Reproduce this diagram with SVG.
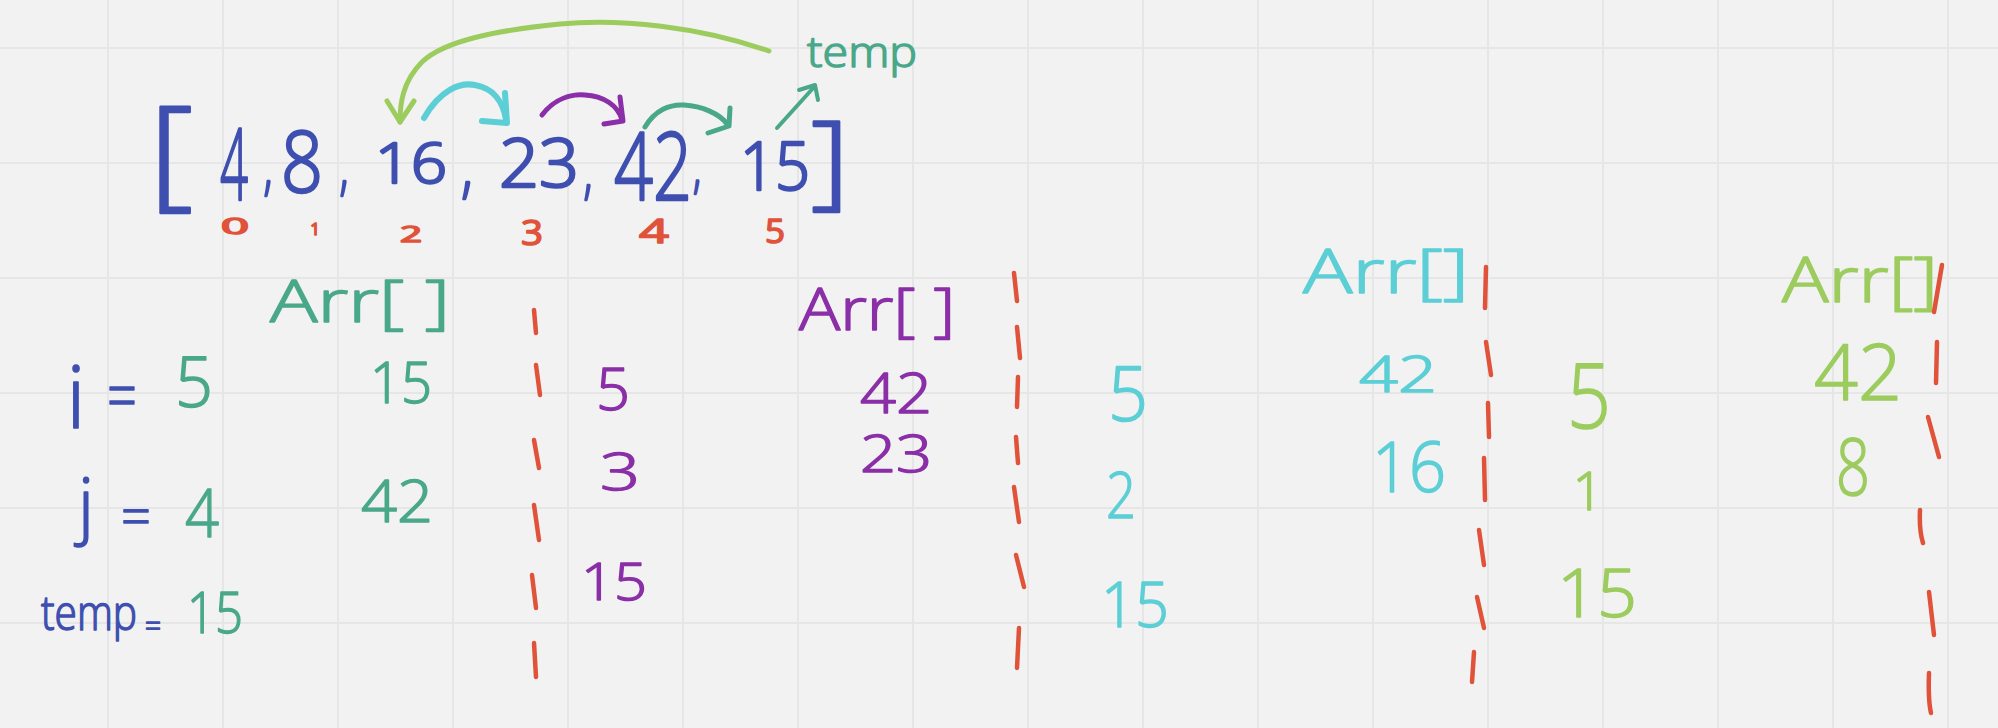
<svg xmlns="http://www.w3.org/2000/svg" width="1998" height="728" viewBox="0 0 1998 728">
<style>
text{font-family:"Open Sans","Liberation Sans",sans-serif;font-weight:300;text-anchor:middle;stroke-width:1.5;stroke-linejoin:round;stroke-linecap:round}
.bl{fill:#3f4fb0;stroke:#3f4fb0}.tl{fill:#4aa88a;stroke:#4aa88a}.pu{fill:#8b2fa8;stroke:#8b2fa8}.cy{fill:#5ccfd6;stroke:#5ccfd6}.yg{fill:#9ccc5e;stroke:#9ccc5e}.rd{fill:#e0533a;stroke:#e0533a;font-weight:400}
text.big{stroke-width:2.5}
.grid line{stroke:#e6e6e6;stroke-width:2}
.pen{fill:none;stroke-linecap:round;stroke-linejoin:round}
.dash path{fill:none;stroke:#e0533a;stroke-width:4.5;stroke-linecap:round}
</style>
<rect width="1998" height="728" fill="#f2f2f2"/>
<g class="grid">
<line x1="108" y1="0" x2="108" y2="728"/><line x1="223" y1="0" x2="223" y2="728"/><line x1="338" y1="0" x2="338" y2="728"/><line x1="453" y1="0" x2="453" y2="728"/><line x1="568" y1="0" x2="568" y2="728"/><line x1="683" y1="0" x2="683" y2="728"/><line x1="798" y1="0" x2="798" y2="728"/><line x1="913" y1="0" x2="913" y2="728"/><line x1="1028" y1="0" x2="1028" y2="728"/><line x1="1143" y1="0" x2="1143" y2="728"/><line x1="1258" y1="0" x2="1258" y2="728"/><line x1="1373" y1="0" x2="1373" y2="728"/><line x1="1488" y1="0" x2="1488" y2="728"/><line x1="1603" y1="0" x2="1603" y2="728"/><line x1="1718" y1="0" x2="1718" y2="728"/><line x1="1833" y1="0" x2="1833" y2="728"/><line x1="1948" y1="0" x2="1948" y2="728"/>
<line x1="0" y1="48" x2="1998" y2="48"/><line x1="0" y1="163" x2="1998" y2="163"/><line x1="0" y1="278" x2="1998" y2="278"/><line x1="0" y1="393" x2="1998" y2="393"/><line x1="0" y1="508" x2="1998" y2="508"/><line x1="0" y1="623" x2="1998" y2="623"/>
</g>

<g id="array">
<text class="bl big" x="171" y="194" font-size="122" textLength="44" lengthAdjust="spacingAndGlyphs">[</text>
<text class="bl big" x="234" y="200" font-size="100" textLength="28" lengthAdjust="spacingAndGlyphs">4</text>
<text class="bl big" x="268" y="188" font-size="60" textLength="9" lengthAdjust="spacingAndGlyphs">,</text>
<text class="bl big" x="302" y="192" font-size="84" textLength="42" lengthAdjust="spacingAndGlyphs">8</text>
<text class="bl big" x="344" y="188" font-size="60" textLength="9" lengthAdjust="spacingAndGlyphs">,</text>
<text class="bl big" x="411" y="183" font-size="56" textLength="72" lengthAdjust="spacingAndGlyphs">16</text>
<text class="bl big" x="467" y="190" font-size="70" textLength="12" lengthAdjust="spacingAndGlyphs">,</text>
<text class="bl big" x="539" y="187" font-size="66" textLength="80" lengthAdjust="spacingAndGlyphs">23</text>
<text class="bl big" x="588" y="192" font-size="60" textLength="9" lengthAdjust="spacingAndGlyphs">,</text>
<text class="bl big" x="653" y="200" font-size="94" textLength="78" lengthAdjust="spacingAndGlyphs">42</text>
<text class="bl big" x="697" y="187" font-size="55" textLength="8" lengthAdjust="spacingAndGlyphs">,</text>
<text class="bl big" x="775" y="190" font-size="66" textLength="70" lengthAdjust="spacingAndGlyphs">15</text>
<text class="bl big" x="830" y="196" font-size="104" textLength="38" lengthAdjust="spacingAndGlyphs">]</text>
</g>

<g id="indices">
<text class="rd" x="235" y="234" font-size="22" textLength="28" lengthAdjust="spacingAndGlyphs">0</text>
<text class="rd" x="315" y="235" font-size="17">1</text>
<text class="rd" x="411" y="242" font-size="21" textLength="22" lengthAdjust="spacingAndGlyphs">2</text>
<text class="rd" x="532" y="245" font-size="35" textLength="22" lengthAdjust="spacingAndGlyphs">3</text>
<text class="rd" x="654" y="243" font-size="32" textLength="30" lengthAdjust="spacingAndGlyphs">4</text>
<text class="rd" x="775" y="243" font-size="32" textLength="20" lengthAdjust="spacingAndGlyphs">5</text>
</g>

<g id="temp-label">
<text class="tl" x="862" y="67" font-size="42" textLength="110" lengthAdjust="spacingAndGlyphs">temp</text>
</g>

<g id="connectors">
<path class="pen" stroke="#9ccc5e" stroke-width="5" d="M769,51 C700,27 620,18 560,24 C500,30 445,40 422,62 C402,82 400,105 400,122"/>
<path class="pen" stroke="#9ccc5e" stroke-width="5" d="M387,101 L400,122 L414,101"/>
<path class="pen" stroke="#5ccfd6" stroke-width="6" d="M424,118 C440,90 460,82 475,85 C492,88 503,100 506,120"/>
<path class="pen" stroke="#5ccfd6" stroke-width="6" d="M482,121 L507,123 L505,93"/>
<path class="pen" stroke="#8b2fa8" stroke-width="5" d="M542,115 C555,98 572,94 585,95 C603,96 618,105 622,120"/>
<path class="pen" stroke="#8b2fa8" stroke-width="5" d="M604,124 L623,121 L620,97"/>
<path class="pen" stroke="#4aa88a" stroke-width="5" d="M645,127 C655,110 670,104 684,105 C702,106 720,114 727,124"/>
<path class="pen" stroke="#4aa88a" stroke-width="5" d="M708,133 L729,126 L730,108"/>
<path class="pen" stroke="#4aa88a" stroke-width="4" d="M777,128 L815,86"/>
<path class="pen" stroke="#4aa88a" stroke-width="4" d="M799,90 L815,85 L818,100"/>
</g>

<g id="vars">
<text class="bl" x="76" y="428" font-size="86">i</text>
<text class="bl" x="122" y="420" font-size="70" textLength="30" lengthAdjust="spacingAndGlyphs">=</text>
<text class="tl" x="194" y="407" font-size="70" textLength="38" lengthAdjust="spacingAndGlyphs">5</text>
<text class="bl" x="86" y="530" font-size="71">j</text>
<text class="bl" x="136" y="536" font-size="55" textLength="30" lengthAdjust="spacingAndGlyphs">=</text>
<text class="tl" x="202" y="537" font-size="66" textLength="34" lengthAdjust="spacingAndGlyphs">4</text>
<text class="bl" x="89" y="630" font-size="48" textLength="96" lengthAdjust="spacingAndGlyphs">temp</text>
<text class="bl" x="153" y="636" font-size="28" textLength="16" lengthAdjust="spacingAndGlyphs">=</text>
<text class="tl" x="215" y="633" font-size="57" textLength="56" lengthAdjust="spacingAndGlyphs">15</text>
</g>

<g id="step1">
<text class="tl" x="360" y="322" font-size="59" textLength="180" lengthAdjust="spacingAndGlyphs">Arr[ ]</text>
<text class="tl" x="401" y="403" font-size="57" textLength="62" lengthAdjust="spacingAndGlyphs">15</text>
<text class="tl" x="397" y="522" font-size="59" textLength="72" lengthAdjust="spacingAndGlyphs">42</text>
</g>

<g id="step2">
<text class="pu" x="613" y="410" font-size="59" textLength="34" lengthAdjust="spacingAndGlyphs">5</text>
<text class="pu" x="620" y="490" font-size="52" textLength="40" lengthAdjust="spacingAndGlyphs">3</text>
<text class="pu" x="614" y="600" font-size="52" textLength="66" lengthAdjust="spacingAndGlyphs">15</text>
<text class="pu" x="877" y="330" font-size="59" textLength="156" lengthAdjust="spacingAndGlyphs">Arr[ ]</text>
<text class="pu" x="896" y="413" font-size="56" textLength="72" lengthAdjust="spacingAndGlyphs">42</text>
<text class="pu" x="896" y="472" font-size="52" textLength="72" lengthAdjust="spacingAndGlyphs">23</text>
</g>

<g id="step3">
<text class="cy" x="1128" y="421" font-size="75" textLength="40" lengthAdjust="spacingAndGlyphs">5</text>
<text class="cy" x="1121" y="518" font-size="64" textLength="30" lengthAdjust="spacingAndGlyphs">2</text>
<text class="cy" x="1135" y="627" font-size="63" textLength="68" lengthAdjust="spacingAndGlyphs">15</text>
<text class="cy" x="1386" y="293" font-size="60" textLength="166" lengthAdjust="spacingAndGlyphs">Arr[]</text>
<text class="cy" x="1398" y="392" font-size="49" textLength="78" lengthAdjust="spacingAndGlyphs">42</text>
<text class="cy" x="1409" y="492" font-size="70" textLength="74" lengthAdjust="spacingAndGlyphs">16</text>
</g>

<g id="step4">
<text class="yg" x="1589" y="428" font-size="91" textLength="44" lengthAdjust="spacingAndGlyphs">5</text>
<text class="yg" x="1588" y="510" font-size="53">1</text>
<text class="yg" x="1597" y="617" font-size="66" textLength="80" lengthAdjust="spacingAndGlyphs">15</text>
<text class="yg" x="1860" y="302" font-size="62" textLength="156" lengthAdjust="spacingAndGlyphs">Arr[]</text>
<text class="yg" x="1858" y="400" font-size="77" textLength="88" lengthAdjust="spacingAndGlyphs">42</text>
<text class="yg" x="1853" y="495" font-size="80" textLength="34" lengthAdjust="spacingAndGlyphs">8</text>
</g>

<g class="dash" id="divider1">
<path d="M534,310 L536,333"/><path d="M536,365 L540,395"/><path d="M534,440 L539,468"/><path d="M534,505 L539,540"/><path d="M532,575 L536,608"/><path d="M534,643 L536,677"/>
</g>
<g class="dash" id="divider2">
<path d="M1014,273 L1017,301"/><path d="M1017,327 L1020,358"/><path d="M1018,377 L1017,407"/><path d="M1016,437 L1018,463"/><path d="M1014,487 L1019,522"/><path d="M1016,555 L1024,587"/><path d="M1019,628 L1017,668"/>
</g>
<g class="dash" id="divider3">
<path d="M1486,267 L1485,308"/><path d="M1486,342 L1491,375"/><path d="M1488,403 L1489,437"/><path d="M1484,458 L1485,500"/><path d="M1479,530 L1484,565"/><path d="M1477,597 L1484,628"/><path d="M1474,652 L1472,682"/>
</g>
<g class="dash" id="divider4">
<path d="M1942,265 L1934,312"/><path d="M1937,342 L1936,383"/><path d="M1928,417 L1939,457"/><path d="M1920,510 Q1919,530 1923,543"/><path d="M1929,592 L1934,635"/><path d="M1929,673 Q1928,700 1931,713"/>
</g>
</svg>
